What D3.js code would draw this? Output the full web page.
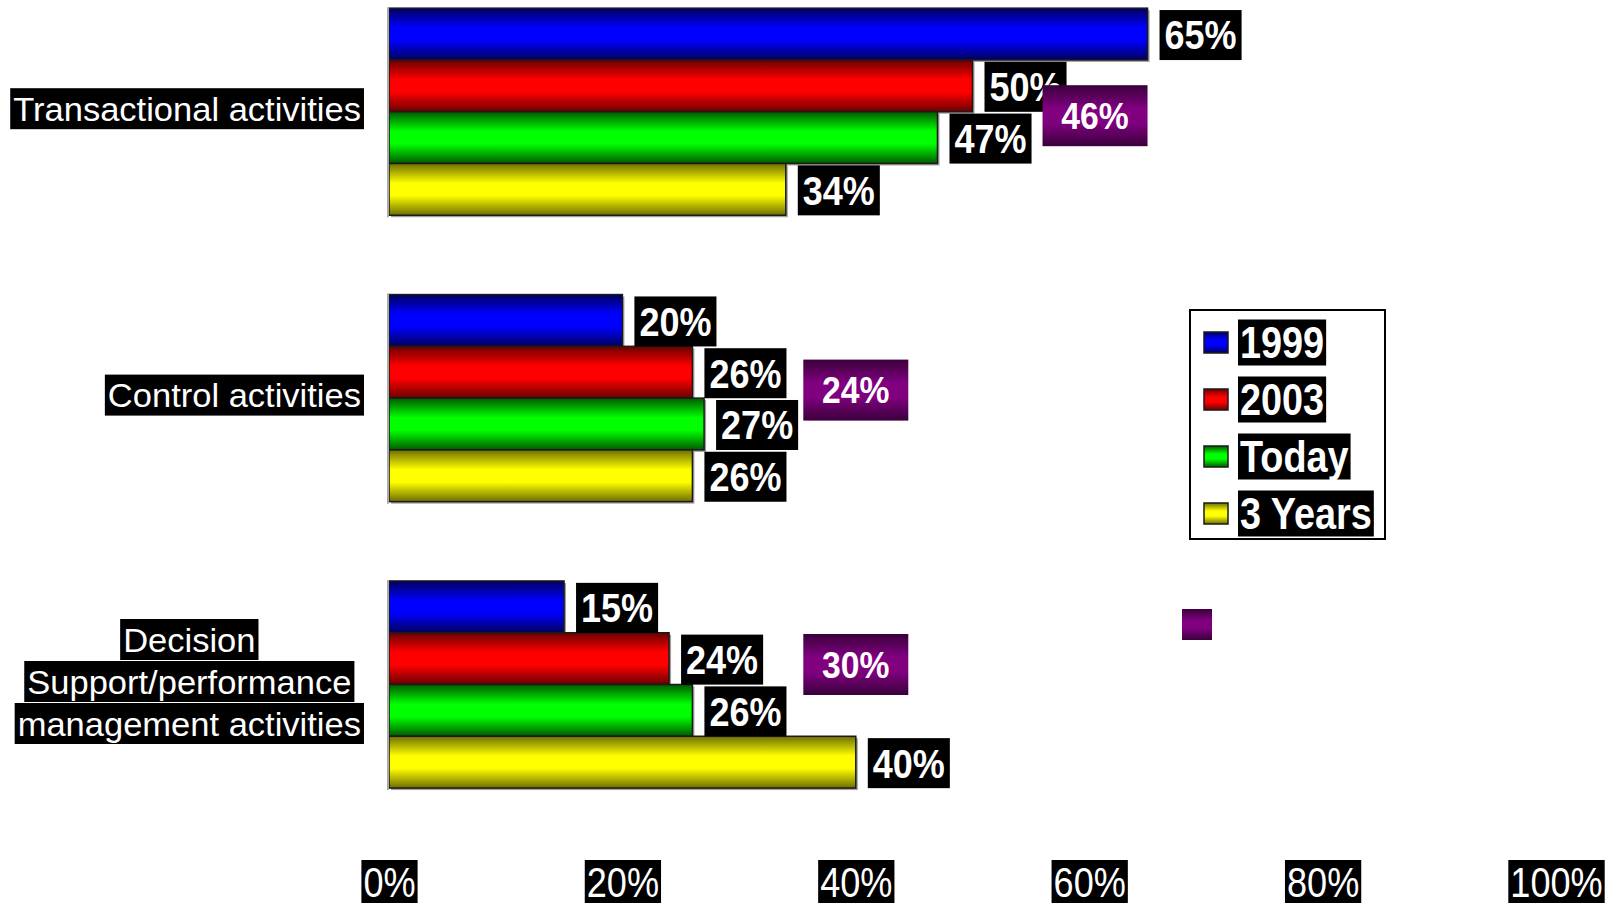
<!DOCTYPE html>
<html>
<head>
<meta charset="utf-8">
<script src="https://cdn.jsdelivr.net/npm/d3@7"></script>
<style>
    body { margin: 0; background: #fff; }
    text { font-family: "Liberation Sans", Arial, sans-serif; }
</style>
</head>
<body>
<div id="chart"></div>
<script>

var categories = ["Transactional activities", "Control activities", "Decision Support/performance management activities"];
var categoryLines = [["Transactional activities"], ["Control activities"], ["Decision", "Support/performance", "management activities"]];

var seriesNames = ["1999", "2003", "Today", "3 Years"];
var v1999 = [65, 20, 15];
var v2003 = [50, 26, 24];
var vToday = [47, 27, 26];
var v3Years = [34, 26, 40];

// purple call-outs (fifth series, no legend text)
var vPurple = [46, 24, 30];
var purpleAt = [60.5, 40, 40];

var xTicks = [0, 20, 40, 60, 80, 100];

var seriesValues = [v1999, v2003, vToday, v3Years];


var width = 1614,
    height = 904;

var colors = [
    { id: "g1999", dark: "#00005e", bright: "#0000ff" },
    { id: "g2003", dark: "#6a0000", bright: "#ff0000" },
    { id: "gToday", dark: "#005a00", bright: "#00ff00" },
    { id: "g3Years", dark: "#6e6e00", bright: "#ffff00" }
];
var purple = { id: "gPurple", dark: "#3a003a", bright: "#800080" };

var svg = d3.select("#chart")
    .append("svg")
    .attr("width", width)
    .attr("height", height);

var defs = svg.append("defs");

colors.concat([purple]).forEach(function (c) {
    var g = defs.append("linearGradient")
        .attr("id", c.id)
        .attr("x1", 0).attr("y1", 0)
        .attr("x2", 0).attr("y2", 1);
    g.append("stop").attr("offset", 0).attr("stop-color", c.dark);
    g.append("stop").attr("offset", 0.38).attr("stop-color", c.bright);
    g.append("stop").attr("offset", 0.62).attr("stop-color", c.bright);
    g.append("stop").attr("offset", 1).attr("stop-color", c.dark);
});

var x = d3.scaleLinear()
    .domain([0, 100])
    .range([389, 1556]);

var y = d3.scaleBand()
    .domain(categories)
    .range([-31.5, 827.7])
    .paddingInner(0.277)
    .paddingOuter(0.1385);

var ys = d3.scaleBand()
    .domain(seriesNames)
    .range([0, y.bandwidth()]);

var shadowLayer = svg.append("g");
var barLayer = svg.append("g");
var labelLayer = svg.append("g");
var topLayer = svg.append("g");

// white-on-black text box, squeezed horizontally by sx
function boxText(layer, px, py, txt, opt) {
    var g = layer.append("g").attr("transform", "translate(" + px + "," + py + ")");
    var rect = g.append("rect").attr("fill", opt.fill || "#000");
    var t = g.append("text")
        .attr("fill", "#fff")
        .attr("font-size", opt.size)
        .attr("font-weight", opt.bold ? "bold" : "normal")
        .attr("text-anchor", opt.anchor || "start")
        .attr("y", opt.size * 0.36)
        .attr("transform", "scale(" + opt.sx + ",1)")
        .text(txt);
    var w = t.node().getComputedTextLength() * opt.sx;
    var bw = opt.boxW || (w + 2 * opt.pad);
    var bx = opt.anchor === "middle" ? -bw / 2 : -opt.pad;
    rect.attr("x", bx)
        .attr("y", -opt.boxH / 2)
        .attr("width", bw)
        .attr("height", opt.boxH);
    return g;
}

categories.forEach(function (cat, i) {

    var top = y(cat);

    labelLayer.append("line")
        .attr("x1", x(0) - 1).attr("x2", x(0) - 1)
        .attr("y1", top - 1).attr("y2", top + y.bandwidth() + 2)
        .attr("stroke", "#aaa")
        .attr("stroke-width", 2);

    seriesNames.forEach(function (s, j) {

        var v = seriesValues[j][i];
        var by = top + ys(s);

        shadowLayer.append("rect")
            .attr("x", x(0) + 2)
            .attr("y", by + 2)
            .attr("width", x(v) - x(0))
            .attr("height", ys.bandwidth())
            .attr("fill", "#a0a0a0");

        barLayer.append("rect")
            .attr("x", x(0))
            .attr("y", by)
            .attr("width", x(v) - x(0))
            .attr("height", ys.bandwidth())
            .attr("fill", "url(#" + colors[j].id + ")")
            .attr("stroke", "#1a1a1a")
            .attr("stroke-width", 1.5);

        boxText(labelLayer, x(v) + 17, by + ys.bandwidth() / 2 + 1, v + "%", {
            size: 40, bold: true, sx: 0.9, pad: 5, boxH: 50
        });
    });

    // category label, lines centred, block right aligned
    var lines = categoryLines[i];
    var probe = svg.append("text").attr("font-size", 34);
    var maxW = d3.max(lines, function (l) {
        probe.text(l);
        return probe.node().getComputedTextLength() * 1.015;
    });
    probe.remove();

    var cx = 361 - maxW / 2;
    var cy = top + y.bandwidth() / 2 - 3;

    lines.forEach(function (l, k) {
        boxText(labelLayer, cx, cy + (k - (lines.length - 1) / 2) * 42, l, {
            size: 34, bold: false, sx: 1.015, pad: 3, boxH: 41, anchor: "middle"
        });
    });
});

// purple call-outs
var purpleNudge = [4, -8, -20];
categories.forEach(function (cat, i) {
    boxText(topLayer, x(purpleAt[i]), y(cat) + y.bandwidth() / 2 + purpleNudge[i], vPurple[i] + "%", {
        size: 37, bold: true, sx: 0.91, boxW: 105, boxH: 61, anchor: "middle", fill: "url(#gPurple)"
    });
});

// x axis
var axis = svg.append("g")
    .attr("transform", "translate(0,881.5)")
    .call(d3.axisBottom(x)
        .tickValues(xTicks)
        .tickSize(0)
        .tickPadding(0)
        .tickFormat(function (d) { return d + "%"; }));

axis.select(".domain").remove();

axis.selectAll(".tick").each(function () {
    var tick = d3.select(this);
    var t = tick.select("text")
        .attr("y", 42 * 0.36)
        .attr("dy", null)
        .attr("fill", "#fff")
        .attr("font-size", 42)
        .attr("font-family", "Liberation Sans, Arial, sans-serif")
        .attr("transform", "scale(0.86,1)");
    var w = t.node().getComputedTextLength() * 0.86;
    tick.insert("rect", "text")
        .attr("x", -w / 2 - 2)
        .attr("y", -21.5)
        .attr("width", w + 4)
        .attr("height", 43)
        .attr("fill", "#000");
});

// legend
var legend = svg.append("g");

legend.append("rect")
    .attr("x", 1190)
    .attr("y", 310)
    .attr("width", 195)
    .attr("height", 229)
    .attr("fill", "#fff")
    .attr("stroke", "#000")
    .attr("stroke-width", 2);

seriesNames.forEach(function (s, j) {
    var ry = 342.5 + j * 57;
    legend.append("rect")
        .attr("x", 1204)
        .attr("y", ry - 10.5)
        .attr("width", 24)
        .attr("height", 21)
        .attr("fill", "url(#" + colors[j].id + ")")
        .attr("stroke", "#1a1a1a")
        .attr("stroke-width", 1.5);
    boxText(legend, 1240, ry, s, {
        size: 44, bold: true, sx: 0.86, pad: 2, boxH: 46
    });
});

// stray swatch of the unnamed purple series
svg.append("rect")
    .attr("x", 1182)
    .attr("y", 609)
    .attr("width", 30)
    .attr("height", 31)
    .attr("fill", "url(#gPurple)");

</script>
</body>
</html>
